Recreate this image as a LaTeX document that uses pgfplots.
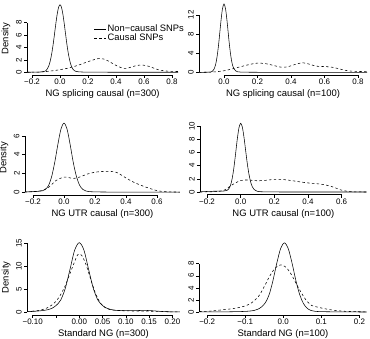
\documentclass[border=0pt]{standalone}
\usepackage{fontspec}
\setmainfont{Liberation Sans}
\usepackage{pgfplots}
\pgfplotsset{compat=1.18}

% R-like density panels: open axes, lines only between first and last tick
\pgfplotsset{
  dens/.style={
    scale only axis, anchor=south west, clip=false,
    axis line style={draw=none},
    tick pos=left, tick align=outside,
    major tick length=3bp,
    tick style={black, line width=0.5bp},
    xticklabel style={font=\fontsize{8}{9}\selectfont, inner sep=1bp},
    yticklabel style={font=\fontsize{8}{9}\selectfont, rotate=90, anchor=south, inner sep=2.2bp},
    xlabel style={font=\fontsize{9.5}{11}\selectfont, at={(axis description cs:0.5,0)}, anchor=center, yshift=-19.3bp},
    ylabel style={font=\fontsize{9.5}{11}\selectfont, at={(axis description cs:0,0.5)}, anchor=center, yshift=21bp},
    every axis plot/.append style={black, line width=0.55bp, smooth, tension=0.5},
  },
  noncausal/.style={solid},
  causal/.style={dash pattern=on 2.4bp off 2.4bp},
}
\tikzset{axisline/.style={black, line width=0.5bp}}

\begin{document}
\begin{tikzpicture}
\path[use as bounding box] (0bp,0bp) rectangle (370bp,339bp);

% ---------- NG splicing causal (n=300)
\begin{axis}[dens, at={(27bp,264bp)}, width=151.06bp, height=73bp,
  xmin=-0.236, xmax=0.843, ymin=-0.44, ymax=11.34,
  xtick={-0.2,0,0.2,0.4,0.6,0.8}, xticklabels={−0.2,0.0,0.2,0.4,0.6,0.8},
  ytick={0,2,4,6,8}, yticklabels={0,2,4,6,8},
  xlabel={NG splicing causal (n=300)}, ylabel={Density},
  legend style={draw=none, fill=none, at={(axis description cs:0.443,0.70)}, anchor=north west,
    font=\fontsize{9.4}{10}\selectfont, row sep=0pt, inner sep=0pt,
    nodes={inner sep=1bp, text height=6.5bp, text depth=0.9bp},
    /tikz/every even column/.append style={column sep=4.6bp}},
  legend cell align=left,
  legend image code/.code={\draw[#1] (0bp,0bp) -- (12bp,0bp);},
]
\addplot[noncausal] coordinates {
(-0.236,0) (-0.2,0.01) (-0.16,0.03) (-0.13,0.06) (-0.11,0.15) (-0.10,0.28)
(-0.09,0.57) (-0.08,1.05) (-0.07,1.82) (-0.06,2.93) (-0.05,4.37) (-0.04,6.08)
(-0.03,7.85) (-0.02,9.42) (-0.01,10.51) (0,10.9) (0.01,10.51) (0.02,9.42)
(0.03,7.85) (0.04,6.08) (0.05,4.37) (0.06,2.93) (0.07,1.82) (0.08,1.05)
(0.09,0.57) (0.10,0.3) (0.11,0.17) (0.13,0.08) (0.16,0.04) (0.2,0.02)
(0.3,0.01) (0.5,0) (0.843,0)};
\addlegendentry{Non−causal SNPs}
\addplot[causal] coordinates {
(-0.236,0) (-0.2,0.01) (-0.15,0.04) (-0.1,0.12) (-0.05,0.25) (0,0.42)
(0.05,0.63) (0.1,0.92) (0.15,1.3) (0.2,1.72) (0.25,2.08) (0.28,2.22)
(0.31,2.15) (0.35,1.75) (0.4,1.1) (0.44,0.72) (0.47,0.62) (0.5,0.78)
(0.54,1.05) (0.58,1.17) (0.62,1.05) (0.66,0.75) (0.7,0.42) (0.75,0.22)
(0.8,0.15) (0.843,0.12)};
\addlegendentry{Causal SNPs}
\draw[axisline] (axis cs:-0.2,-0.44) -- (axis cs:0.8,-0.44);
\draw[axisline] (axis cs:-0.236,0) -- (axis cs:-0.236,8);
\end{axis}

% ---------- NG splicing causal (n=100)
\begin{axis}[dens, at={(199.04bp,263.9bp)}, width=168bp, height=74.4bp,
  xmin=-0.149, xmax=0.854, ymin=-0.58, ymax=14.98,
  xtick={0,0.2,0.4,0.6,0.8}, xticklabels={0.0,0.2,0.4,0.6,0.8},
  ytick={0,4,8,12}, yticklabels={0,4,8,12},
  xlabel={NG splicing causal (n=100)},
]
\addplot[noncausal] coordinates {
(-0.149,0) (-0.12,0.01) (-0.1,0.02) (-0.09,0.04) (-0.08,0.06) (-0.07,0.2)
(-0.06,0.63) (-0.05,1.63) (-0.04,3.57) (-0.03,6.55) (-0.02,10.11) (-0.01,13.11)
(0,14.3) (0.01,13.11) (0.02,10.11) (0.03,6.55) (0.04,3.57) (0.05,1.63)
(0.06,0.7) (0.07,0.3) (0.08,0.12) (0.1,0.05) (0.15,0.02) (0.2,0.01)
(0.3,0) (0.854,0)};
\addplot[causal] coordinates {
(-0.149,0) (-0.1,0.02) (-0.05,0.1) (0,0.33) (0.05,0.72) (0.1,1.18)
(0.15,1.62) (0.2,1.93) (0.25,1.8) (0.3,1.4) (0.34,1.08) (0.38,1.15)
(0.42,1.6) (0.47,2.0) (0.51,1.7) (0.55,1.3) (0.6,1.2) (0.64,1.1)
(0.68,0.8) (0.72,0.45) (0.76,0.25) (0.8,0.18) (0.854,0.15)};
\draw[axisline] (axis cs:0,-0.58) -- (axis cs:0.8,-0.58);
\draw[axisline] (axis cs:-0.149,0) -- (axis cs:-0.149,12);
\end{axis}

% ---------- NG UTR causal (n=300)
\begin{axis}[dens, at={(24.94bp,144.2bp)}, width=155bp, height=74.4bp,
  xmin=-0.252, xmax=0.748, ymin=-0.295, ymax=7.66,
  xtick={-0.2,0,0.2,0.4,0.6}, xticklabels={−0.2,0.0,0.2,0.4,0.6},
  ytick={0,2,4,6}, yticklabels={0,2,4,6},
  xlabel={NG UTR causal (n=300)}, ylabel={Density},
]
\addplot[noncausal] coordinates {
(-0.252,0.01) (-0.2,0.05) (-0.16,0.09) (-0.14,0.13) (-0.12,0.28) (-0.10,0.69)
(-0.08,1.63) (-0.06,3.15) (-0.04,5.05) (-0.02,6.71) (0,7.37) (0.02,6.71)
(0.04,5.05) (0.06,3.15) (0.08,1.68) (0.10,0.75) (0.12,0.3) (0.14,0.12)
(0.16,0.05) (0.2,0.02) (0.3,0) (0.748,0)};
\addplot[causal] coordinates {
(-0.252,0) (-0.2,0.04) (-0.15,0.13) (-0.1,0.5) (-0.05,1.25) (0,1.6)
(0.03,1.55) (0.06,1.45) (0.1,1.6) (0.15,1.92) (0.2,2.12) (0.25,2.2)
(0.3,2.2) (0.33,2.15) (0.36,1.92) (0.4,1.5) (0.45,1.05) (0.5,0.7)
(0.55,0.4) (0.6,0.15) (0.65,0.04) (0.7,0.01) (0.748,0)};
\draw[axisline] (axis cs:-0.2,-0.295) -- (axis cs:0.6,-0.295);
\draw[axisline] (axis cs:-0.252,0) -- (axis cs:-0.252,6);
\end{axis}

% ---------- NG UTR causal (n=100)
\begin{axis}[dens, at={(199.98bp,144.25bp)}, width=166.7bp, height=74.2bp,
  xmin=-0.242, xmax=0.749, ymin=-0.418, ymax=10.87,
  xtick={-0.2,0,0.2,0.4,0.6}, xticklabels={−0.2,0.0,0.2,0.4,0.6},
  ytick={0,2,4,6,8,10}, yticklabels={0,2,4,6,8,10},
  xlabel={NG UTR causal (n=100)},
]
\addplot[noncausal] coordinates {
(-0.242,0.02) (-0.2,0.08) (-0.15,0.12) (-0.12,0.12) (-0.10,0.15) (-0.08,0.25)
(-0.07,0.5) (-0.06,1.05) (-0.05,2.12) (-0.04,3.77) (-0.03,5.89) (-0.02,8.1)
(-0.01,9.8) (0,10.45) (0.01,9.85) (0.02,8.25) (0.03,6.2) (0.04,4.2)
(0.05,2.6) (0.06,1.45) (0.07,0.75) (0.08,0.38) (0.1,0.1) (0.12,0.04)
(0.2,0.01) (0.3,0) (0.749,0)};
\addplot[causal] coordinates {
(-0.242,0) (-0.2,0.02) (-0.15,0.07) (-0.1,0.25) (-0.05,1.1) (0,1.75)
(0.05,1.82) (0.1,1.7) (0.15,1.78) (0.2,1.92) (0.25,1.9) (0.3,1.75)
(0.35,1.55) (0.4,1.38) (0.45,1.27) (0.5,1.1) (0.55,0.75) (0.6,0.28)
(0.65,0.06) (0.7,0.01) (0.749,0)};
\draw[axisline] (axis cs:-0.2,-0.418) -- (axis cs:0.6,-0.418);
\draw[axisline] (axis cs:-0.242,0) -- (axis cs:-0.242,10);
\end{axis}

% ---------- Standard NG (n=300)
\begin{axis}[dens, at={(27.14bp,24.23bp)}, width=152.75bp, height=74.9bp,
  xmin=-0.112, xmax=0.216, ymin=-0.606, ymax=15.76,
  xtick={-0.1,-0.05,0,0.05,0.1,0.15,0.2}, xticklabels={−0.10,,0.00,0.05,0.10,0.15,0.20},
  ytick={0,5,10,15}, yticklabels={0,5,10,15},
  xlabel={Standard NG (n=300)}, ylabel={Density},
]
\addplot[noncausal] coordinates {
(-0.112,0.08) (-0.1,0.12) (-0.09,0.2) (-0.08,0.3) (-0.07,0.45) (-0.06,0.75)
(-0.05,1.4) (-0.04,2.6) (-0.03,5.2) (-0.02,9.3) (-0.01,13.5) (0,15.15)
(0.01,13.5) (0.02,9.3) (0.03,5.2) (0.04,2.6) (0.05,1.4) (0.06,0.8)
(0.07,0.5) (0.08,0.35) (0.1,0.3) (0.12,0.3) (0.14,0.35) (0.16,0.25)
(0.18,0.1) (0.2,0.03) (0.216,0.02)};
\addplot[causal] coordinates {
(-0.112,0.1) (-0.1,0.2) (-0.09,0.3) (-0.08,0.5) (-0.07,0.85) (-0.06,1.45)
(-0.05,2.35) (-0.04,3.8) (-0.03,5.8) (-0.02,8.4) (-0.01,11.0) (-0.003,12.55)
(0.005,12.4) (0.015,10.2) (0.025,7.0) (0.035,4.0) (0.045,2.0) (0.055,1.0)
(0.065,0.55) (0.08,0.35) (0.1,0.25) (0.12,0.2) (0.14,0.2) (0.16,0.15)
(0.18,0.08) (0.2,0.03) (0.216,0.02)};
\draw[axisline] (axis cs:-0.1,-0.606) -- (axis cs:0.2,-0.606);
\draw[axisline] (axis cs:-0.112,0) -- (axis cs:-0.112,15);
\end{axis}

% ---------- Standard NG (n=100)
\begin{axis}[dens, at={(199.35bp,24.23bp)}, width=167.3bp, height=74.7bp,
  xmin=-0.2205, xmax=0.219, ymin=-0.458, ymax=11.91,
  xtick={-0.2,-0.1,0,0.1,0.2}, xticklabels={−0.2,−0.1,0.0,0.1,0.2},
  ytick={0,2,4,6,8}, yticklabels={0,2,4,6,8},
  xlabel={Standard NG (n=100)},
]
\addplot[noncausal] coordinates {
(-0.2205,0.01) (-0.15,0.03) (-0.1,0.1) (-0.077,0.25) (-0.067,0.45) (-0.057,0.85)
(-0.047,1.55) (-0.037,2.9) (-0.027,5.24) (-0.017,8.1) (-0.007,10.5) (0.003,11.45)
(0.013,10.5) (0.023,8.1) (0.033,5.24) (0.043,2.9) (0.053,1.4) (0.063,0.6)
(0.073,0.25) (0.083,0.12) (0.1,0.06) (0.15,0.02) (0.219,0)};
\addplot[causal] coordinates {
(-0.2205,0.08) (-0.2,0.12) (-0.18,0.22) (-0.155,0.4) (-0.13,0.58) (-0.106,0.9)
(-0.086,1.4) (-0.066,2.5) (-0.056,3.5) (-0.046,4.7) (-0.036,5.9) (-0.026,6.9)
(-0.016,7.55) (-0.006,7.8) (0.004,7.55) (0.014,6.9) (0.024,5.9) (0.034,4.7)
(0.044,3.55) (0.054,2.5) (0.064,1.65) (0.074,1.1) (0.094,0.75) (0.114,0.48)
(0.134,0.28) (0.154,0.15) (0.18,0.07) (0.219,0.02)};
\draw[axisline] (axis cs:-0.2,-0.458) -- (axis cs:0.2,-0.458);
\draw[axisline] (axis cs:-0.2205,0) -- (axis cs:-0.2205,8);
\end{axis}
\end{tikzpicture}
\end{document}
